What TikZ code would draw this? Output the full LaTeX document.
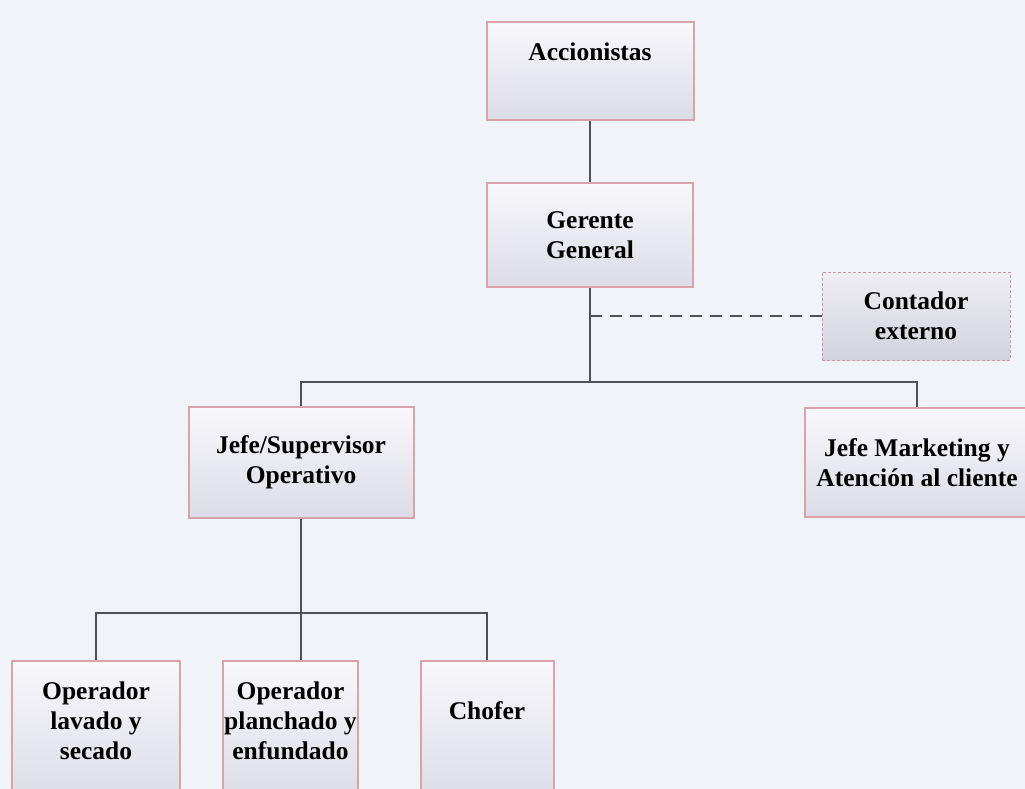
\documentclass[tikz,border=0pt]{standalone}
\usepackage{fontspec}
\setmainfont{Liberation Serif}
\usepackage{tikz}
\usetikzlibrary{positioning}

\definecolor{fondo}{RGB}{240,244,248}
\definecolor{borde}{RGB}{217,163,174}
\definecolor{linea}{RGB}{80,80,85}
\definecolor{cajaA}{RGB}{247,247,251}
\definecolor{cajaB}{RGB}{220,220,230}

\begin{document}
\begin{tikzpicture}[x=1pt,y=-1pt,
    cargo/.style={draw=borde, line width=2pt, top color=cajaA, bottom color=cajaB,
      align=center, inner sep=4pt, font=\fontsize{25.5}{30}\selectfont\bfseries},
    externo/.style={cargo, draw=borde!80!gray, line width=1pt, dash pattern=on 3pt off 2pt,
      top color=cajaB!50!white, bottom color=cajaB!90!gray},
    enlace/.style={draw=linea, line width=1.5pt}]
      % background of the page
      \fill[fondo] (0,0) rectangle (1025,789);
      \useasboundingbox (0,0) rectangle (1025,789);

      \node[cargo, minimum width=207pt, minimum height=98pt, text depth=38pt] (acc) at (590,71) {Accionistas};
      \node[cargo, minimum width=206pt, minimum height=104pt] (ger) at (590,235) {Gerente\\General};
      \node[externo, minimum width=188pt, minimum height=88pt] (cont) at (916,316) {Contador\\externo};
      \node[cargo, minimum width=225pt, minimum height=111pt] (sup) at (301,462.5) {Jefe/Supervisor\\Operativo};
      \node[cargo, minimum width=224pt, minimum height=109pt, inner xsep=1pt] (mkt) at (917,462.5) {Jefe Marketing y\\Atención al cliente};
      \node[cargo, anchor=north, minimum width=168pt, minimum height=140pt, text depth=20pt] (lav) at (96,660) {Operador\\lavado y\\secado};
      \node[cargo, anchor=north, minimum width=135pt, minimum height=140pt, text depth=20pt, inner xsep=0.5pt] (pla) at (290.5,660) {Operador\\planchado y\\enfundado};
      \node[cargo, anchor=north, minimum width=133pt, minimum height=140pt, text depth=40pt] (cho) at (487,660) {Chofer};

      % lines of the chart
      \draw[enlace] (acc.south) -- (ger.north);
      \draw[enlace] (ger.south) -- (590,382) coordinate (b_1);
      \draw[enlace] (b_1) -| (sup.north);
      \draw[enlace] (b_1) -| (mkt.north);
      \draw[enlace, dash pattern=on 12pt off 8pt] (ger.south |- cont.west) -- (cont.west);
      \draw[enlace] (sup.south) -- (301,613) coordinate (c_1);
      \draw[enlace] (c_1) -| (lav.north);
      \draw[enlace] (c_1) -| (cho.north);
      \draw[enlace] (c_1) -- (c_1 |- pla.north);
    \end{tikzpicture}
\end{document}
